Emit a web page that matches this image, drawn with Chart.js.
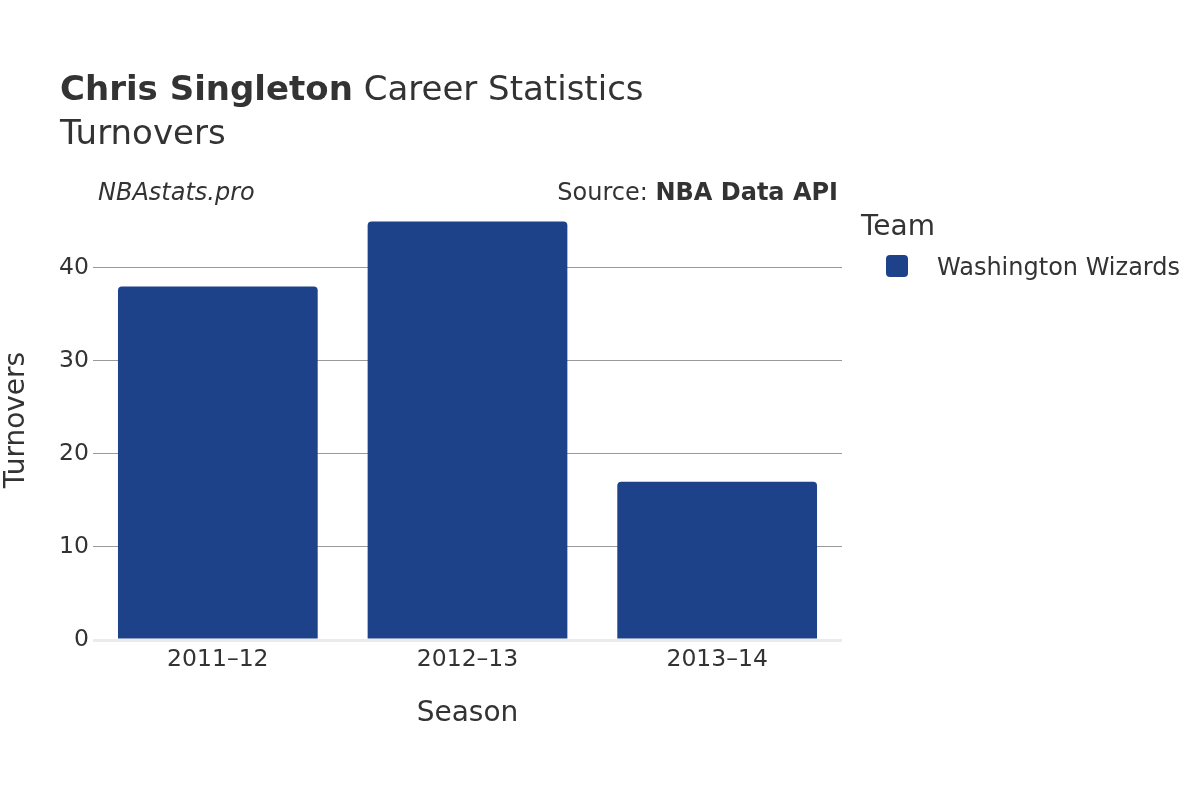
<!DOCTYPE html>
<html>
<head>
<meta charset="utf-8">
<script src="https://cdn.jsdelivr.net/npm/chart.js@4"></script>
<style>
  body { margin: 0; background: #fff; font-family: "DejaVu Sans", sans-serif; color: #333; }
  #wrap { position: relative; width: 1200px; height: 800px; }
  #chart { position: absolute; left: 0; top: 0; }
  .txt { position: absolute; white-space: nowrap; line-height: 1; }
</style>
</head>
<body>
<div id="wrap">
  <canvas id="chart" width="1200" height="800"></canvas>
  <div class="txt" style="left:60px; top:71px; font-size:34px;"><b>Chris Singleton</b> Career Statistics</div>
  <div class="txt" style="left:60px; top:115px; font-size:34px;">Turnovers</div>
  <div class="txt" style="left:98px; top:180px; font-size:24px; font-style:italic;">NBAstats.pro</div>
  <div class="txt" style="right:362px; top:180px; font-size:24px;">Source: <b>NBA Data API</b></div>
  <div class="txt" style="left:861px; top:212px; font-size:28px;" id="legendTitle"></div>
  <div id="legendItems"></div>
</div>
<script>
// chart data
const seasons = ['2011\u201312', '2012\u201313', '2013\u201314'];
const turnovers = [38, 45, 17];
const teamName = 'Washington Wizards';
const teamColor = '#1d4289';
const yTicks = [0, 10, 20, 30, 40];

document.addEventListener('DOMContentLoaded', function() {
    // legend built from the dataset
    document.getElementById('legendTitle').textContent = 'Team';
    const item = document.createElement('div');
    item.innerHTML =
        '<div style="position:absolute;left:886px;top:255px;width:22px;height:22px;border-radius:4px;background:' + teamColor + '"></div>' +
        '<div class="txt" style="left:937px;top:255px;font-size:24px;">' + teamName + '</div>';
    document.getElementById('legendItems').appendChild(item);

    const ctx = document.getElementById('chart').getContext('2d');
    new Chart(ctx, {
        type: 'bar',
        data: {
            labels: seasons,
            datasets: [{
                label: teamName,
                data: turnovers,
                backgroundColor: teamColor,
                borderRadius: { topLeft: 4, topRight: 4 },
                borderSkipped: 'bottom',
                barPercentage: 0.8,
                categoryPercentage: 1.0
            }]
        },
        options: {
            responsive: false,
            animation: false,
            layout: { padding: { top: 200, right: 358, bottom: 69, left: 0 } },
            plugins: {
                legend: { display: false },
                tooltip: { enabled: false }
            },
            scales: {
                x: {
                    grid: { display: false, drawTicks: false },
                    border: { display: false },
                    ticks: { color: '#333', font: { family: 'DejaVu Sans', size: 23.5 }, padding: 6 },
                    title: {
                        display: true, text: 'Season', color: '#333',
                        font: { family: 'DejaVu Sans', size: 28 },
                        padding: { top: 0, bottom: 0 }
                    },
                    afterFit: s => { s.height = 91; }
                },
                y: {
                    min: 0,
                    max: 47.3,
                    afterBuildTicks: s => { s.ticks = yTicks.map(v => ({ value: v })); },
                    grid: {
                        drawTicks: false,
                        color: c => c.tick && c.tick.value === 0 ? '#ebebeb' : '#999',
                        lineWidth: c => c.tick && c.tick.value === 0 ? 3 : 1
                    },
                    border: { display: false },
                    ticks: { color: '#333', font: { family: 'DejaVu Sans', size: 23.5 }, padding: 4 },
                    title: {
                        display: true, text: 'Turnovers', color: '#333',
                        font: { family: 'DejaVu Sans', size: 28 },
                        padding: { top: 0, bottom: 0 }
                    },
                    afterFit: s => { s.width = 93; }
                }
            }
        }
    });
});
</script>
</body>
</html>
